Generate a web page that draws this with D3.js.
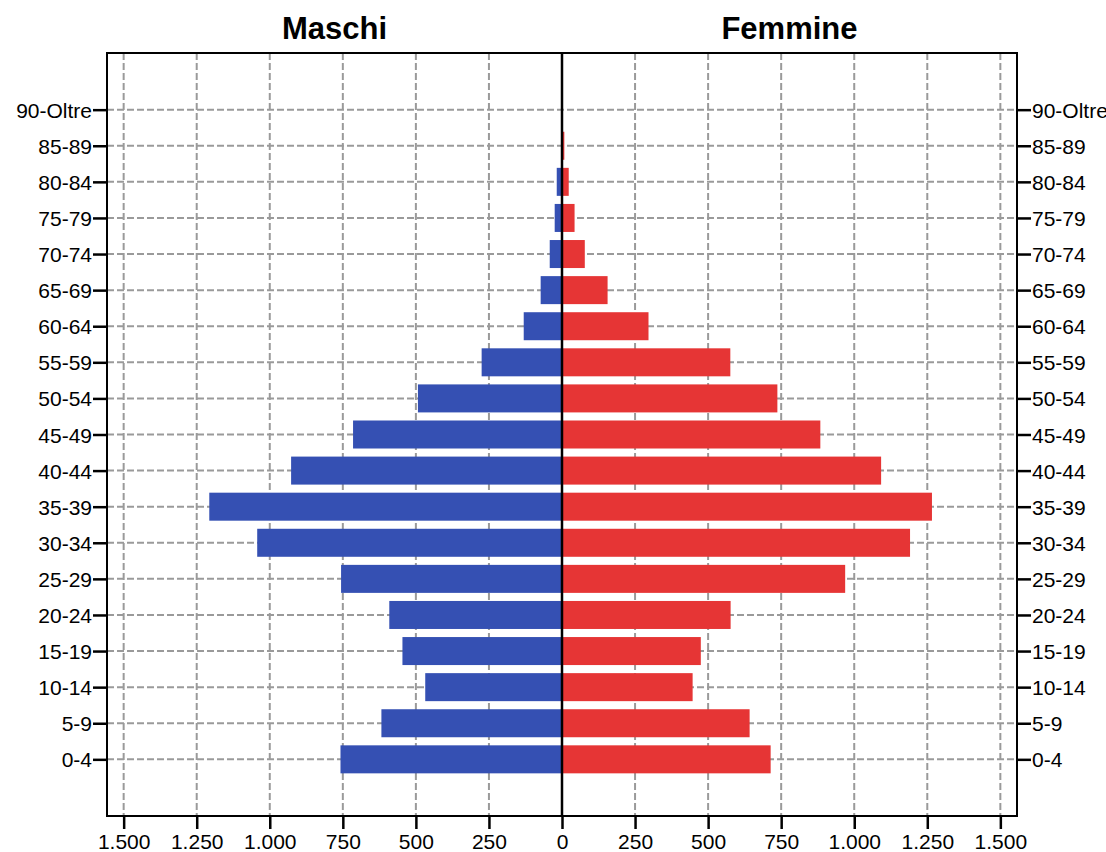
<!DOCTYPE html>
<html>
<head>
<meta charset="utf-8">
<script src="https://cdn.jsdelivr.net/npm/d3@7"></script>
<style>
  html, body { margin: 0; padding: 0; background: #fff; }
  svg { display: block; }
  text { font-family: "Liberation Sans", Arial, Helvetica, sans-serif; fill: #000; }
</style>
</head>
<body>
<svg id="chart" width="1106" height="852"></svg>
<script>
// ---- data ----
const ageGroups = ["0-4","5-9","10-14","15-19","20-24","25-29","30-34","35-39","40-44","45-49",
                   "50-54","55-59","60-64","65-69","70-74","75-79","80-84","85-89","90-Oltre"];
const maschi  = [758, 618, 468, 546, 591, 756, 1043, 1207, 927, 715, 493, 275, 131, 73, 42, 25, 18, 0, 0];
const femmine = [714, 642, 447, 475, 577, 969, 1191, 1266, 1092, 884, 737, 576, 296, 156, 78, 43, 23, 8, 3];
const xTickValues = [-1500, -1250, -1000, -750, -500, -250, 0, 250, 500, 750, 1000, 1250, 1500];
const titles = ["Maschi", "Femmine"];

// ---- layout ----
const W = 1106, H = 852;
const pLeft = 107, pRight = 1017, pTop = 53, pBottom = 816;
const svg = d3.select("#chart");

const itLocale = d3.formatLocale({decimal: ",", thousands: ".", grouping: [3], currency: ["", "€"]});
const fmt = itLocale.format(",d");

const x = d3.scaleLinear().domain([-1557, 1557]).range([pLeft, pRight]);
const y = d3.scalePoint().domain(ageGroups.slice().reverse()).range([pTop, pBottom]).padding(1.57);
const barH = y.step() * 0.776;

const rows = ageGroups.map((g, i) => ({g, m: maschi[i], f: femmine[i]}));

// background
svg.append("rect").attr("width", W).attr("height", H).attr("fill", "#fff");

// grid
const grid = svg.append("g").attr("stroke", "#9a9a9a").attr("stroke-width", 2).attr("stroke-dasharray", "7,3");
grid.selectAll("line.v").data(xTickValues.filter(d => d !== 0)).join("line")
  .attr("class", "v")
  .attr("x1", d => x(d)).attr("x2", d => x(d))
  .attr("y1", pTop).attr("y2", pBottom);
grid.selectAll("line.h").data(ageGroups).join("line")
  .attr("class", "h")
  .attr("x1", pLeft).attr("x2", pRight)
  .attr("y1", d => y(d)).attr("y2", d => y(d));

// bars
svg.append("g").selectAll("rect").data(rows).join("rect")
  .attr("x", d => x(-d.m)).attr("width", d => x(0) - x(-d.m))
  .attr("y", d => y(d.g) - barH / 2).attr("height", barH)
  .attr("fill", "#3550b3");
svg.append("g").selectAll("rect").data(rows).join("rect")
  .attr("x", x(0)).attr("width", d => x(d.f) - x(0))
  .attr("y", d => y(d.g) - barH / 2).attr("height", barH)
  .attr("fill", "#e63535");

// center line
svg.append("line").attr("x1", x(0)).attr("x2", x(0)).attr("y1", pTop).attr("y2", pBottom)
  .attr("stroke", "#000").attr("stroke-width", 2.5);

// frame
svg.append("rect").attr("x", pLeft).attr("y", pTop).attr("width", pRight - pLeft).attr("height", pBottom - pTop)
  .attr("fill", "none").attr("stroke", "#000").attr("stroke-width", 2);

// axes
function styleAxis(g) {
  g.select(".domain").remove();
  g.selectAll(".tick line").attr("stroke", "#000").attr("stroke-width", 2.5);
  g.selectAll(".tick text").attr("font-size", "21px").attr("fill", "#000")
    .attr("font-family", '"Liberation Sans", Arial, Helvetica, sans-serif');
}
svg.append("g").attr("transform", `translate(${pLeft},0)`)
  .call(d3.axisLeft(y).tickSize(14).tickPadding(1))
  .call(styleAxis)
  .selectAll(".tick text").attr("dy", "0.36em");
svg.append("g").attr("transform", `translate(${pRight},0)`)
  .call(d3.axisRight(y).tickSize(14).tickPadding(1))
  .call(styleAxis)
  .selectAll(".tick text").attr("dy", "0.36em");
const xa = svg.append("g").attr("transform", `translate(0,${pBottom})`)
  .call(d3.axisBottom(x).tickValues(xTickValues).tickSize(13).tickPadding(5).tickFormat(d => fmt(Math.abs(d))))
  .call(styleAxis);
xa.selectAll(".tick text").attr("dy", "0.71em");

// titles
svg.selectAll("text.title").data(titles).join("text")
  .attr("class", "title")
  .attr("x", (d, i) => i === 0 ? (x(-1557) + x(0)) / 2 : (x(0) + x(1557)) / 2)
  .attr("y", 39)
  .attr("text-anchor", "middle")
  .attr("font-size", "31px").attr("font-weight", "bold")
  .text(d => d);
</script>
</body>
</html>
